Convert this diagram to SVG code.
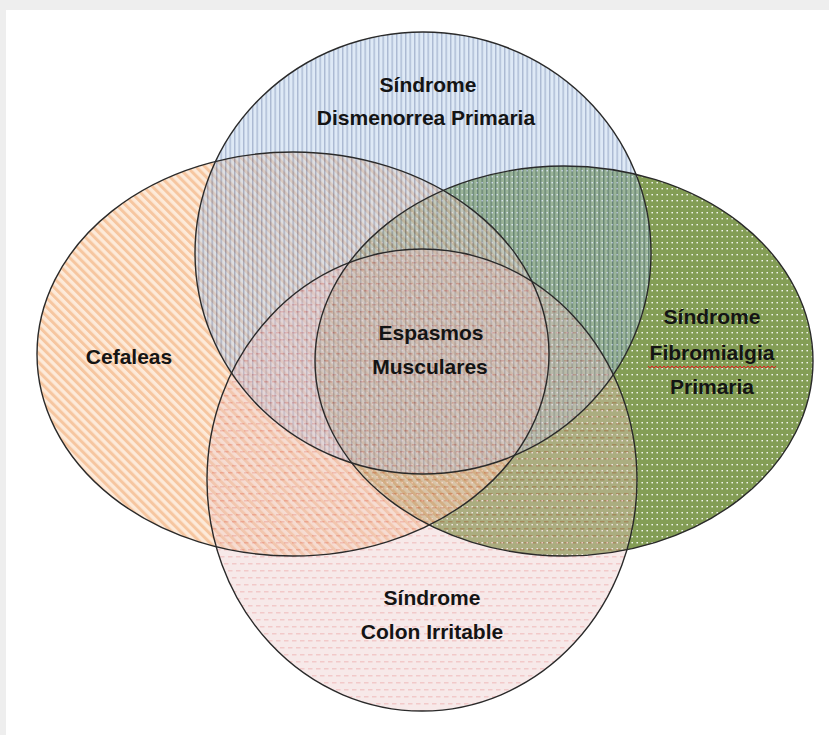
<svg xmlns="http://www.w3.org/2000/svg" width="829" height="735" viewBox="0 0 829 735">
  <defs>
    <!-- vertical hairlines -->
    <pattern id="pat-vlines" width="4.5" height="10" patternUnits="userSpaceOnUse">
      <rect width="4.5" height="10" fill="#b6cfeb"/>
      <rect x="0" y="0" width="1.4" height="10" fill="#43629b"/>
    </pattern>
    <!-- diagonal stripes -->
    <pattern id="pat-diag" width="6.4" height="10" patternUnits="userSpaceOnUse" patternTransform="rotate(-45)">
      <rect width="6.4" height="10" fill="#fcdcc0"/>
      <rect x="0" y="0" width="3" height="10" fill="#f0a060"/>
    </pattern>
    <!-- white dot grid -->
    <pattern id="pat-dots" width="5" height="6" patternUnits="userSpaceOnUse">
      <rect width="5" height="6" fill="#5a7c1c"/>
      <rect x="1.5" y="2" width="1.4" height="1.4" fill="#ffffff"/>
    </pattern>
    <!-- staggered dashes -->
    <pattern id="pat-dash" width="8" height="14" patternUnits="userSpaceOnUse">
      <rect width="8" height="14" fill="#ebc6c6"/>
      <rect x="0" y="3" width="4.5" height="1.5" fill="#dc7070"/>
      <rect x="4" y="10" width="4" height="1.5" fill="#dc7070"/>
      <rect x="0" y="10" width="0.5" height="1.5" fill="#dc7070"/>
    </pattern>
    <style>
      .lbl { font-family: "Liberation Sans", Arial, sans-serif; font-weight: bold; font-size: 21px; fill: #141414; text-anchor: middle; }
      .outline { fill: none; stroke: #2a2a2a; stroke-width: 1.4; }
    </style>
  </defs>

  <!-- page -->
  <rect width="829" height="735" fill="#eeeeee"/>
  <rect x="6" y="10" width="823" height="725" fill="#ffffff"/>

  <!-- set fills -->
  <g id="fibromialgia">
    <ellipse cx="564" cy="361" rx="249" ry="195" fill="url(#pat-dots)" opacity="0.75"/>
  </g>
  <g id="cefaleas">
    <ellipse cx="293" cy="354" rx="256" ry="202" fill="url(#pat-diag)" opacity="0.6"/>
  </g>
  <g id="dismenorrea">
    <ellipse cx="423" cy="253" rx="228" ry="221" fill="url(#pat-vlines)" opacity="0.45"/>
  </g>
  <g id="colon">
    <ellipse cx="422" cy="480" rx="215" ry="231" fill="url(#pat-dash)" opacity="0.38"/>
  </g>

  <!-- set outlines -->
  <g id="outlines">
    <ellipse class="outline" cx="564" cy="361" rx="249" ry="195"/>
    <ellipse class="outline" cx="293" cy="354" rx="256" ry="202"/>
    <ellipse class="outline" cx="423" cy="253" rx="228" ry="221"/>
    <ellipse class="outline" cx="422" cy="480" rx="215" ry="231"/>
  </g>

  <!-- labels -->
  <g id="labels">
    <text class="lbl" x="428" y="92">Síndrome</text>
    <text class="lbl" x="426" y="125">Dismenorrea Primaria</text>
    <text class="lbl" x="129" y="364">Cefaleas</text>
    <text class="lbl" x="431" y="340">Espasmos</text>
    <text class="lbl" x="430" y="374">Musculares</text>
    <text class="lbl" x="712" y="324">Síndrome</text>
    <text class="lbl" x="712" y="360">Fibromialgia</text>
    <text class="lbl" x="712" y="394">Primaria</text>
    <polyline fill="none" stroke="#e02020" stroke-width="1" points="648,366 650,368 652,366 654,368 656,366 658,368 660,366 662,368 664,366 666,368 668,366 670,368 672,366 674,368 676,366 678,368 680,366 682,368 684,366 686,368 688,366 690,368 692,366 694,368 696,366 698,368 700,366 702,368 704,366 706,368 708,366 710,368 712,366 714,368 716,366 718,368 720,366 722,368 724,366 726,368 728,366 730,368 732,366 734,368 736,366 738,368 740,366 742,368 744,366 746,368 748,366 750,368 752,366 754,368 756,366 758,368 760,366 762,368 764,366 766,368 768,366 770,368 772,366 774,368 776,366"/>
    <text class="lbl" x="432" y="605">Síndrome</text>
    <text class="lbl" x="432" y="639">Colon Irritable</text>
  </g>
</svg>
